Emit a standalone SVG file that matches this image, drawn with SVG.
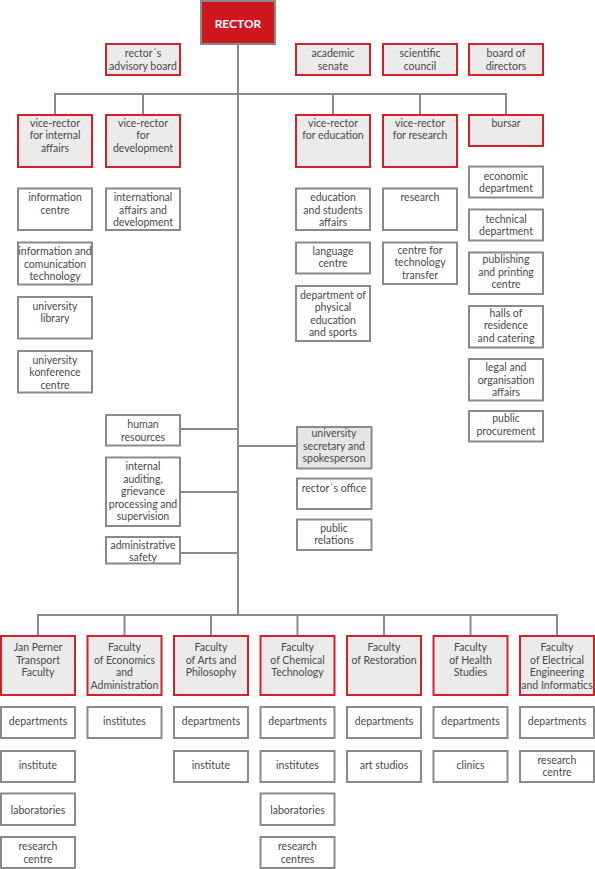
<svg xmlns="http://www.w3.org/2000/svg" width="595" height="869" viewBox="0 0 595 869">
<style>
.b{fill:#fff;stroke:#8a8a8a;stroke-width:2}
.r{fill:#ebebeb;stroke:#d6202a;stroke-width:2}
.g{fill:#e6e6e6;stroke:#8a8a8a;stroke-width:2}
.ln{stroke:#8a8a8a;stroke-width:2;fill:none}
text{font-family:Lato,"Liberation Sans",sans-serif;font-size:10.5px;fill:#4a4a4a;text-anchor:middle}
</style>
<rect width="595" height="869" fill="#fff"/>
<g id="connectors" class="ln">
<path d="M238 44V615"/>
<path d="M55 94H507M55 93V115M143 93V115M333 93V115M420 93V115M506 93V115"/>
<path d="M180 429H238M180 492H238M180 553H238M238 446H297"/>
<path d="M38 615H557M38 614V636M124.5 614V636M211 614V636M297.5 614V636M384 614V636M470.5 614V636M557 614V636"/>
</g>
<g id="rector"><rect x="201" y="1" width="74" height="43" fill="#d0161e" stroke="#8a8a8a" stroke-width="2"/><text x="238" y="27.5" style="fill:#fff;font-weight:bold;font-size:12px">RECTOR</text></g>
<g id="advisory"><rect class="r" x="106" y="44" width="74" height="31"/><text x="143" y="57">rector´s</text><text x="143" y="69.5">advisory board</text></g>
<g id="senate"><rect class="r" x="296" y="44" width="74" height="31"/><text x="333" y="57">academic</text><text x="333" y="69.5">senate</text></g>
<g id="council"><rect class="r" x="383" y="44" width="74" height="31"/><text x="420" y="57">scientific</text><text x="420" y="69.5">council</text></g>
<g id="board"><rect class="r" x="469" y="44" width="74" height="31"/><text x="506" y="57">board of</text><text x="506" y="69.5">directors</text></g>
<g id="vr-internal"><rect class="r" x="18" y="115" width="74" height="52"/><text x="55" y="126.5">vice-rector</text><text x="55" y="139">for internal</text><text x="55" y="151.5">affairs</text></g>
<g id="vr-development"><rect class="r" x="106" y="115" width="74" height="52"/><text x="143" y="126.5">vice-rector</text><text x="143" y="139">for</text><text x="143" y="151.5">development</text></g>
<g id="vr-education"><rect class="r" x="296" y="115" width="74" height="52"/><text x="333" y="126.5">vice-rector</text><text x="333" y="139">for education</text></g>
<g id="vr-research"><rect class="r" x="383" y="115" width="74" height="52"/><text x="420" y="126.5">vice-rector</text><text x="420" y="139">for research</text></g>
<g id="bursar"><rect class="r" x="469" y="115" width="74" height="31"/><text x="506" y="126.5">bursar</text></g>
<g id="info-centre"><rect class="b" x="18" y="188.5" width="74" height="41.5"/><text x="55" y="201">information</text><text x="55" y="214">centre</text></g>
<g id="ict"><rect class="b" x="18" y="242.5" width="74" height="42"/><text x="55" y="255">information and</text><text x="55" y="267.5">comunication</text><text x="55" y="280">technology</text></g>
<g id="library"><rect class="b" x="18" y="297" width="74" height="41.5"/><text x="55" y="309.5">university</text><text x="55" y="322">library</text></g>
<g id="konference"><rect class="b" x="18" y="351" width="74" height="41.5"/><text x="55" y="363.5">university</text><text x="55" y="376">konference</text><text x="55" y="388.5">centre</text></g>
<g id="intl"><rect class="b" x="106" y="188.5" width="74" height="41.5"/><text x="143" y="201">international</text><text x="143" y="213.5">affairs and</text><text x="143" y="226">development</text></g>
<g id="edu-students"><rect class="b" x="296" y="188.5" width="74" height="41.5"/><text x="333" y="201">education</text><text x="333" y="213.5">and students</text><text x="333" y="226">affairs</text></g>
<g id="language"><rect class="b" x="296" y="242.5" width="74" height="31"/><text x="333" y="254.5">language</text><text x="333" y="267">centre</text></g>
<g id="sports"><rect class="b" x="296" y="286" width="74" height="55"/><text x="333" y="298.5">department of</text><text x="333" y="311">physical</text><text x="333" y="323.5">education</text><text x="333" y="336">and sports</text></g>
<g id="research"><rect class="b" x="383" y="188.5" width="74" height="41.5"/><text x="420" y="201">research</text></g>
<g id="tech-transfer"><rect class="b" x="383" y="242.5" width="74" height="41.5"/><text x="420" y="253.5">centre for</text><text x="420" y="266">technology</text><text x="420" y="278.5">transfer</text></g>
<g id="economic"><rect class="b" x="469" y="166.5" width="74" height="31"/><text x="506" y="179.5">economic</text><text x="506" y="192">department</text></g>
<g id="technical"><rect class="b" x="469" y="209.5" width="74" height="31"/><text x="506" y="222.5">technical</text><text x="506" y="235">department</text></g>
<g id="publishing"><rect class="b" x="469" y="252.5" width="74" height="41.5"/><text x="506" y="263">publishing</text><text x="506" y="275.5">and printing</text><text x="506" y="288">centre</text></g>
<g id="halls"><rect class="b" x="469" y="306" width="74" height="41.5"/><text x="506" y="316.5">halls of</text><text x="506" y="329">residence</text><text x="506" y="341.5">and catering</text></g>
<g id="legal"><rect class="b" x="469" y="359" width="74" height="41.5"/><text x="506" y="371">legal and</text><text x="506" y="383.5">organisation</text><text x="506" y="396">affairs</text></g>
<g id="procurement"><rect class="b" x="469" y="411" width="74" height="30.5"/><text x="506" y="422">public</text><text x="506" y="435">procurement</text></g>
<g id="hr"><rect class="b" x="106" y="415" width="74" height="30.5"/><text x="143" y="428">human</text><text x="143" y="440.5">resources</text></g>
<g id="auditing"><rect class="b" x="106" y="457.5" width="74" height="68.5"/><text x="143" y="470">internal</text><text x="143" y="482.5">auditing,</text><text x="143" y="495">grievance</text><text x="143" y="507.5">processing and</text><text x="143" y="520">supervision</text></g>
<g id="safety"><rect class="b" x="106" y="537" width="74" height="26.5"/><text x="143" y="549">administrative</text><text x="143" y="561">safety</text></g>
<g id="secretary"><rect class="g" x="297" y="427" width="74.5" height="41.5"/><text x="334" y="437">university</text><text x="334" y="449.5">secretary and</text><text x="334" y="462">spokesperson</text></g>
<g id="office"><rect class="b" x="297" y="478.5" width="74.5" height="30.5"/><text x="334" y="492">rector´s office</text></g>
<g id="pr"><rect class="b" x="297" y="519.5" width="74.5" height="30.5"/><text x="334" y="532">public</text><text x="334" y="544">relations</text></g>
<g id="f-transport"><rect class="r" x="1" y="636" width="74" height="59"/><text x="38" y="651">Jan Perner</text><text x="38" y="663.5">Transport</text><text x="38" y="676">Faculty</text></g>
<g id="f-economics"><rect class="r" x="87.5" y="636" width="74" height="59"/><text x="124.5" y="651">Faculty</text><text x="124.5" y="663.5">of Economics</text><text x="124.5" y="676">and</text><text x="124.5" y="688.5">Administration</text></g>
<g id="f-arts"><rect class="r" x="174" y="636" width="74" height="59"/><text x="211" y="651">Faculty</text><text x="211" y="663.5">of Arts and</text><text x="211" y="676">Philosophy</text></g>
<g id="f-chemical"><rect class="r" x="260.5" y="636" width="74" height="59"/><text x="297.5" y="651">Faculty</text><text x="297.5" y="663.5">of Chemical</text><text x="297.5" y="676">Technology</text></g>
<g id="f-restoration"><rect class="r" x="347" y="636" width="74" height="59"/><text x="384" y="651">Faculty</text><text x="384" y="663.5">of Restoration</text></g>
<g id="f-health"><rect class="r" x="433.5" y="636" width="74" height="59"/><text x="470.5" y="651">Faculty</text><text x="470.5" y="663.5">of Health</text><text x="470.5" y="676">Studies</text></g>
<g id="f-electrical"><rect class="r" x="520" y="636" width="74" height="59"/><text x="557" y="651">Faculty</text><text x="557" y="663.5">of Electrical</text><text x="557" y="676">Engineering</text><text x="557" y="688.5">and Informatics</text></g>
<g id="t-dep"><rect class="b" x="1" y="707" width="74" height="31"/><text x="38" y="725">departments</text></g>
<g id="t-inst"><rect class="b" x="1" y="751" width="74" height="31"/><text x="38" y="769">institute</text></g>
<g id="t-lab"><rect class="b" x="1" y="793.5" width="74" height="31.5"/><text x="38" y="813.5">laboratories</text></g>
<g id="t-rc"><rect class="b" x="1" y="837" width="74" height="31"/><text x="38" y="850">research</text><text x="38" y="862.5">centre</text></g>
<g id="e-inst"><rect class="b" x="87.5" y="707" width="74" height="31"/><text x="124.5" y="725">institutes</text></g>
<g id="a-dep"><rect class="b" x="174" y="707" width="74" height="31"/><text x="211" y="725">departments</text></g>
<g id="a-inst"><rect class="b" x="174" y="751" width="74" height="31"/><text x="211" y="769">institute</text></g>
<g id="c-dep"><rect class="b" x="260.5" y="707" width="74" height="31"/><text x="297.5" y="725">departments</text></g>
<g id="c-inst"><rect class="b" x="260.5" y="751" width="74" height="31"/><text x="297.5" y="769">institutes</text></g>
<g id="c-lab"><rect class="b" x="260.5" y="793.5" width="74" height="31.5"/><text x="297.5" y="813.5">laboratories</text></g>
<g id="c-rc"><rect class="b" x="260.5" y="837" width="74" height="31"/><text x="297.5" y="850">research</text><text x="297.5" y="862.5">centres</text></g>
<g id="r-dep"><rect class="b" x="347" y="707" width="74" height="31"/><text x="384" y="725">departments</text></g>
<g id="r-art"><rect class="b" x="347" y="751" width="74" height="31"/><text x="384" y="769">art studios</text></g>
<g id="h-dep"><rect class="b" x="433.5" y="707" width="74" height="31"/><text x="470.5" y="725">departments</text></g>
<g id="h-clin"><rect class="b" x="433.5" y="751" width="74" height="31"/><text x="470.5" y="769">clinics</text></g>
<g id="ee-dep"><rect class="b" x="520" y="707" width="74" height="31"/><text x="557" y="725">departments</text></g>
<g id="ee-rc"><rect class="b" x="520" y="751" width="74" height="31"/><text x="557" y="763.5">research</text><text x="557" y="776">centre</text></g>
</svg>
